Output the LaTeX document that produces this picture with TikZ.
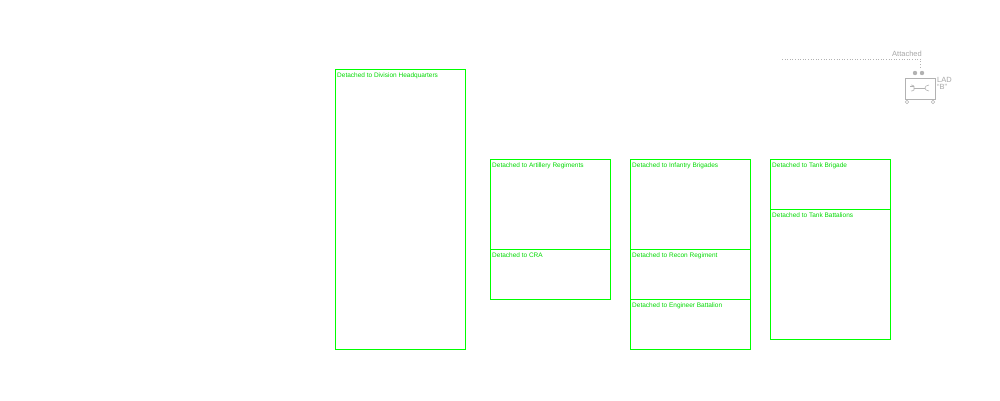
\documentclass[tikz,border=0pt]{standalone}
\usepackage{fontspec}
\setmainfont{Liberation Sans}
\begin{document}
\begin{tikzpicture}[x=1pt,y=-1pt,
  box/.style={draw=green,line width=0.8pt},
  lbl/.style={text=green!85!black,font=\fontsize{6.5}{7}\selectfont,anchor=north west,inner sep=0pt},
  gr/.style={draw=black!30,line width=0.6pt}]
\useasboundingbox (0,0) rectangle (1000,400);
\draw[box] (335,69) rectangle (465,349);
\node[lbl] (hq) at (337,73) {Detached to Division Headquarters};
\draw[box] (490,159) rectangle (610,249);
\draw[box] (490,249) rectangle (610,299);
\node[lbl] (ar) at (492,163) {Detached to Artillery Regiments};
\node[lbl] (cra) at (492,253) {Detached to CRA};
\draw[box] (630,159) rectangle (750,249);
\draw[box] (630,249) rectangle (750,299);
\draw[box] (630,299) rectangle (750,349);
\node[lbl] (inf) at (632,163) {Detached to Infantry Brigades};
\node[lbl] (rec) at (632,253) {Detached to Recon Regiment};
\node[lbl] (eng) at (632,303) {Detached to Engineer Battalion};
\draw[box] (770,159) rectangle (890,209);
\draw[box] (770,209) rectangle (890,339);
\node[lbl] (tb) at (772,163) {Detached to Tank Brigade};
\node[lbl] (tbn) at (772,213) {Detached to Tank Battalions};
% attached
\coordinate (a1) at (782,59);
\coordinate (a2) at (920,59);
\coordinate (a3) at (920,68);
\draw[gr,dotted] (a1) -- (a2) -- (a3);
\node[text=black!35,font=\fontsize{7.5}{8}\selectfont,anchor=south east,inner sep=0pt] (att) at (922,57) {Attached};
\draw[gr] (905,78) rectangle (935,99);
\fill[black!30] (915,73) circle (2.2) (922,73) circle (2.2);
\draw[gr] (907,102) circle (1.8) (933,102) circle (1.8);
\draw[gr] (910,86) -- (914,86) arc (90:-90:-0) ;
\draw[gr] (911,85) .. controls (914,85) and (915,87) .. (914,89) (911,91) .. controls (914,91) and (915,89) .. (914,88);
\draw[gr] (914,88) -- (925,88);
\draw[gr] (929,85) .. controls (926,85) and (925,87) .. (925,88) .. controls (925,89) and (926,91) .. (929,91);
\node[text=black!35,font=\fontsize{7.5}{7.5}\selectfont,anchor=north west,inner sep=0pt,align=left] (lad) at (937,77) {LAD\\``B''};
\end{tikzpicture}
\end{document}
